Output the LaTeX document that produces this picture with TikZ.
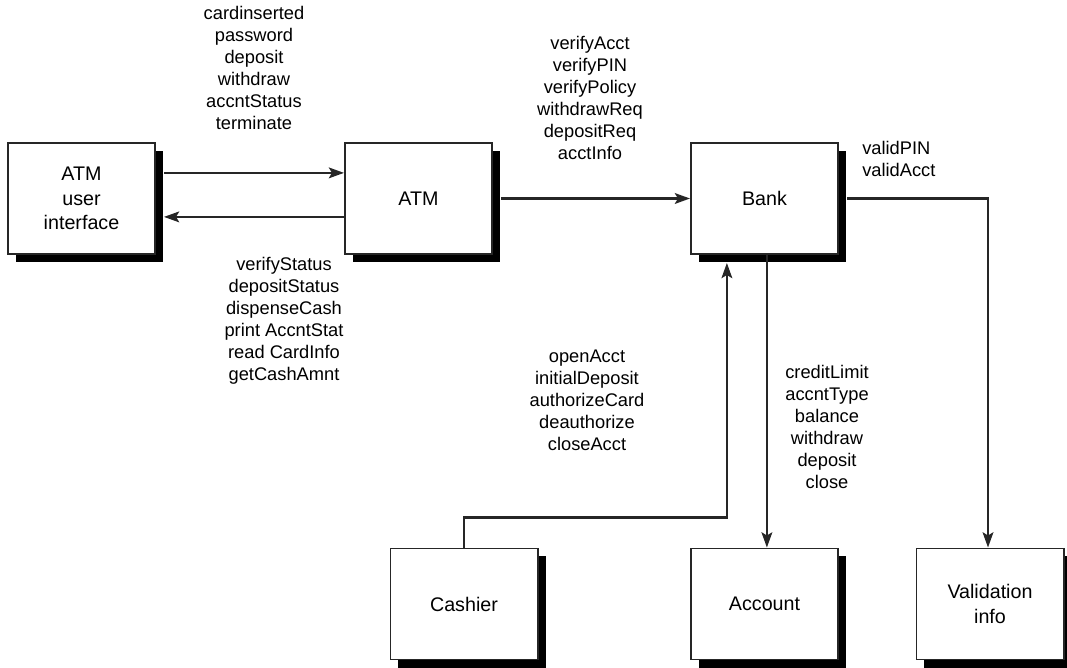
\documentclass[tikz,border=0pt]{standalone}
\usepackage{fontspec}
\setmainfont{Liberation Sans}
\usetikzlibrary{arrows.meta,shadows}

\begin{document}
\begin{tikzpicture}[x=0.025cm, y=-0.025cm,
    box/.style={draw=black!85, line width=1.4pt, fill=white,
      minimum width=3.675cm, minimum height=2.775cm, align=center,
      font=\fontsize{14}{17.5}\selectfont,
      drop shadow={shadow xshift=0.2cm, shadow yshift=-0.2cm, fill=black, opacity=1}},
    lbl/.style={align=center, inner sep=0pt, font=\fontsize{13}{15.6}\selectfont},
    flow/.style={line width=1.5pt, black!85, -{Stealth[length=0.38cm, width=0.27cm, inset=0.08cm]}}]
  \useasboundingbox (0,0) rectangle (1067,668);

  % Top row: user interface, ATM, bank
  \node[box] (ui) at (81.5, 198.5) {ATM\\user\\interface};
  \node[box] (atm) at (418.5, 198.5) {ATM};
  \node[box] (bank) at (764.5, 198.5) {Bank};

  % Bottom row: cashier, account, validation
  \node[box] (cashier) at (464, 604) {Cashier};
  \node[box] (account) at (764.5, 604) {Account};
  \node[box] (valid) at (990, 604) {Validation\\info};

  % Connectors
  \draw[flow] ([xshift=0.2cm, yshift=0.64cm]ui.east) -- ([yshift=0.64cm]atm.west);
  \draw[flow] ([yshift=-0.46cm]atm.west) -- ([xshift=0.2cm, yshift=-0.46cm]ui.east);
  \draw[flow] ([xshift=0.2cm]atm.east) -- (bank.west);
  \draw[flow] ([xshift=0.2cm]bank.east) -| ([xshift=-0.05cm]valid.north);
  \draw[flow] ([xshift=0.06cm]bank.south) -- ([xshift=0.06cm]account.north);
  \draw[flow] (cashier.north) -- ++(0,-30) -| ([xshift=-0.94cm, yshift=-0.2cm]bank.south);

  % Message labels
  \node[lbl, anchor=north] (uiIn) at (254, 6)
    {cardinserted\\password\\deposit\\withdraw\\accntStatus\\terminate};
  \node[lbl, anchor=north] (uiOut) at (284, 257)
    {verifyStatus\\depositStatus\\dispenseCash\\print AccntStat\\read CardInfo\\getCashAmnt};
  \node[lbl, anchor=north] (atmOut) at (590, 36)
    {verifyAcct\\verifyPIN\\verifyPolicy\\withdrawReq\\depositReq\\acctInfo};
  \node[lbl, anchor=north west, align=left] (bankValid) at (862, 141)
    {validPIN\\validAcct};
  \node[lbl, anchor=north] (cashierOut) at (587, 350)
    {openAcct\\initialDeposit\\authorizeCard\\deauthorize\\closeAcct};
  \node[lbl, anchor=north] (bankAcct) at (827, 365)
    {creditLimit\\accntType\\balance\\withdraw\\deposit\\close};
\end{tikzpicture}
\end{document}
